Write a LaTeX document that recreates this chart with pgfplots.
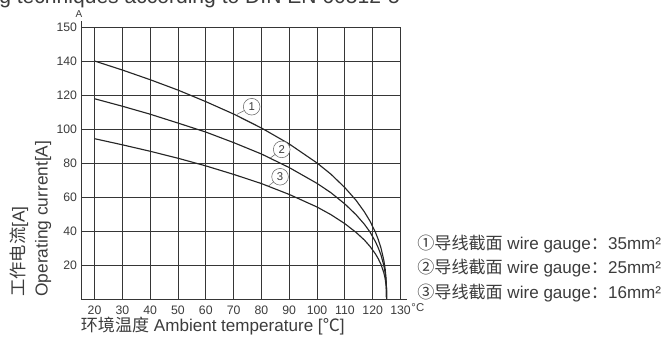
\documentclass[border=0pt]{standalone}
\usepackage{fontspec}
\setmainfont{Liberation Sans}
\newfontfamily\cjk{Noto Sans CJK SC}
\usepackage{pgfplots}
\pgfplotsset{compat=1.18}

\definecolor{txt}{HTML}{3C3C3C}
\definecolor{gridc}{HTML}{363636}
\definecolor{curve}{HTML}{262626}

\begin{document}
\begin{tikzpicture}
\useasboundingbox (-61.3pt,-28.5pt) rectangle (436pt,224.25pt);

% cut-off heading at the top
\node[anchor=base west, inner sep=0pt, text=txt, font=\fontsize{15.8}{18}\selectfont]
  at (-62pt,221.8pt) {g techniques according to DIN EN 60512-5};

\begin{axis}[
    scale only axis,
    width=239.1pt, height=204pt,
    xmin=15.4, xmax=130, ymin=0, ymax=160,
    xtick={20,30,40,50,60,70,80,90,100,110,120,130},
    ytick={20,40,60,80,100,120,140,160},
    yticklabels={20,40,60,80,100,120,140,150},
    grid=major,
    major grid style={gridc, line width=0.55pt},
    major tick length=0pt,
    axis line style={gridc, line width=0.6pt},
    tick label style={font=\fontsize{9.2}{10}\selectfont, text=txt},
    xticklabel style={yshift=-1.5pt},
    /pgf/number format/assume math mode=true,
    clip=false,
]
% 35 mm^2
\addplot[curve, line width=0.85pt] coordinates {
    (20,140.0) (30,134.7) (40,129.0) (50,122.9) (60,116.1) (70,108.8) (80,100.6)
    (90,91.2) (100,80.0) (105,73.4) (110,65.5) (114,58.1) (117,51.3) (119,45.9)
    (121,39.2) (122,35.0) (123,29.9) (124,22.8) (124.5,17.4) (124.8,12.2)
    (124.95,7.1) (125,0)};
% 25 mm^2
\addplot[curve, line width=0.85pt] coordinates {
    (20,117.8) (30,113.4) (40,108.7) (50,103.5) (60,98.2) (70,92.0) (80,85.3)
    (90,77.3) (100,68.0) (105,62.5) (110,55.9) (114,49.6) (117,44.0) (119,39.5)
    (121,33.7) (122,30.1) (123,25.8) (124,19.8) (124.5,15.2) (124.8,10.7)
    (124.95,6.3) (125,0)};
% 16 mm^2
\addplot[curve, line width=0.85pt] coordinates {
    (20,94.3) (30,90.7) (40,86.9) (50,82.8) (60,78.3) (70,73.3) (80,67.9)
    (90,61.5) (100,54.1) (105,49.6) (110,44.3) (114,39.2) (117,34.7) (119,31.0)
    (121,26.5) (122,23.7) (123,20.3) (124,15.5) (124.5,11.8) (124.8,8.3)
    (124.95,4.9) (125,0)};

% callouts
\draw[black!60, line width=0.4pt] (axis cs:71.2,108.6) -- (axis cs:76.5,113.1);
\draw[black!60, line width=0.4pt] (axis cs:83.1,82.8) -- (axis cs:87.3,88);
\draw[black!60, line width=0.4pt] (axis cs:82.5,66.4) -- (axis cs:86.7,71.9);
\node[circle, draw=black!60, line width=0.4pt, fill=white, minimum size=12.5pt, inner sep=0pt,
  text=txt, font=\fontsize{8.5}{9}\selectfont] at (axis cs:76.5,113.1) {1};
\node[circle, draw=black!60, line width=0.4pt, fill=white, minimum size=12.5pt, inner sep=0pt,
  text=txt, font=\fontsize{8.5}{9}\selectfont] at (axis cs:87.3,88) {2};
\node[circle, draw=black!60, line width=0.4pt, fill=white, minimum size=12.5pt, inner sep=0pt,
  text=txt, font=\fontsize{8.5}{9}\selectfont] at (axis cs:86.7,71.9) {3};

% axis line stubs and units
\draw[gridc, line width=0.6pt] (rel axis cs:0,1) -- ([yshift=4.5pt]rel axis cs:0,1);
\draw[gridc, line width=0.6pt] (rel axis cs:1,0) -- ([xshift=5pt]rel axis cs:1,0);
\node[text=txt, font=\fontsize{7.5}{8}\selectfont, inner sep=0pt] at ([xshift=-2pt, yshift=10pt]rel axis cs:0,1) {A};
\node[text=txt, font=\fontsize{8.5}{10}\selectfont, inner sep=0pt] at ([xshift=13pt, yshift=-6.8pt]rel axis cs:1,0) {°C};

% axis titles
\node[rotate=90, anchor=west, inner sep=0pt, text=txt, font=\fontsize{13}{15}\selectfont]
  at ([xshift=-47pt, yshift=1.5pt]rel axis cs:0,0) {{\cjk 工作电流}[A]};
\node[rotate=90, anchor=west, inner sep=0pt, text=txt, font=\fontsize{13}{15}\selectfont]
  at ([xshift=-29pt, yshift=1.5pt]rel axis cs:0,0) {Operating current[A]};
\node[anchor=west, inner sep=0pt, text=txt, font=\fontsize{12.8}{15}\selectfont]
  at ([xshift=-0.8pt, yshift=-20.3pt]rel axis cs:0,0) {{\cjk 环境温度} Ambient temperature [{\cjk ℃}]};

% key
\node[anchor=west, inner sep=0pt, text=txt, font=\fontsize{12.8}{15}\selectfont]
  at ([xshift=12.5pt, yshift=41.5pt]rel axis cs:1,0) {{\cjk ①导线截面} wire gauge{\cjk ：}35mm²};
\node[anchor=west, inner sep=0pt, text=txt, font=\fontsize{12.8}{15}\selectfont]
  at ([xshift=12.5pt, yshift=23pt]rel axis cs:1,0) {{\cjk ②导线截面} wire gauge{\cjk ：}25mm²};
\node[anchor=west, inner sep=0pt, text=txt, font=\fontsize{12.8}{15}\selectfont]
  at ([xshift=12.5pt, yshift=4.5pt]rel axis cs:1,0) {{\cjk ③导线截面} wire gauge{\cjk ：}16mm²};
\end{axis}
\end{tikzpicture}
\end{document}
